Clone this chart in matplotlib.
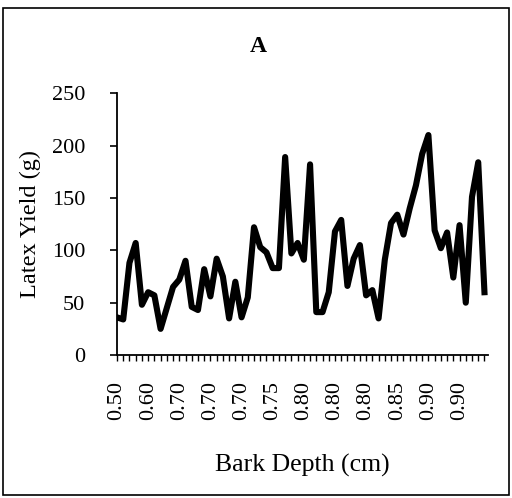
import matplotlib
matplotlib.use("Agg")
import matplotlib.pyplot as plt
from matplotlib.patches import Rectangle

# latex yield per tree, in the order of the sampled trees
latex_yield = [36, 34, 88, 107, 48, 60, 57, 25, 45, 65,
               72, 90, 46, 43, 82, 56, 92, 75, 35, 70,
               36, 55, 122, 103, 98, 83, 83, 189, 97, 107,
               91, 182, 41, 41, 60, 118, 129, 66, 92, 105,
               57, 62, 35, 91, 126, 134, 115, 140, 162, 192,
               210, 119, 102, 117, 74, 124, 50, 151, 184, 60]
# bark depth labels shown on every 5th category
depth_labels = ["0.50", "0.60", "0.70", "0.70", "0.70", "0.75",
                "0.80", "0.80", "0.80", "0.85", "0.90", "0.90"]
label_step = 5
y_ticks = [0, 50, 100, 150, 200, 250]

plt.rcParams["font.family"] = ["Liberation Serif", "DejaVu Serif"]

fig = plt.figure(figsize=(5.12, 4.98), dpi=100)
ax = fig.add_axes([0.2285, 0.287, 0.725, 0.526])

x = list(range(len(latex_yield)))
ax.plot(x, latex_yield, color="black", linewidth=4.4, solid_joinstyle="round")

ax.set_xlim(0, len(latex_yield) - 0.4)
ax.set_ylim(0, 250)
ax.set_yticks(y_ticks)
ax.tick_params(axis="y", labelsize=16, length=5, width=1.2, direction="out", pad=18)

ax.set_xticks(x)
labels = [""] * len(x)
for k, lab in enumerate(depth_labels):
    labels[k * label_step] = lab
ax.set_xticklabels(labels, rotation=90)
ax.tick_params(axis="x", labelsize=16, length=4, width=1.0, direction="out", pad=15)

for side in ["top", "right"]:
    ax.spines[side].set_visible(False)
for side in ["left", "bottom"]:
    ax.spines[side].set_linewidth(1.3)

ax.set_ylabel("Latex Yield (g)", fontsize=17.5, labelpad=8)
ax.set_xlabel("Bark Depth (cm)", fontsize=18.5, labelpad=24)
fig.text(0.505, 0.907, "A", fontsize=17, fontweight="bold", ha="center", va="center")

fig.patches.append(Rectangle((0.006, 0.006), 0.988, 0.978, transform=fig.transFigure,
                             fill=False, edgecolor="black", linewidth=1.2))

fig.savefig("out.png", dpi=100)
